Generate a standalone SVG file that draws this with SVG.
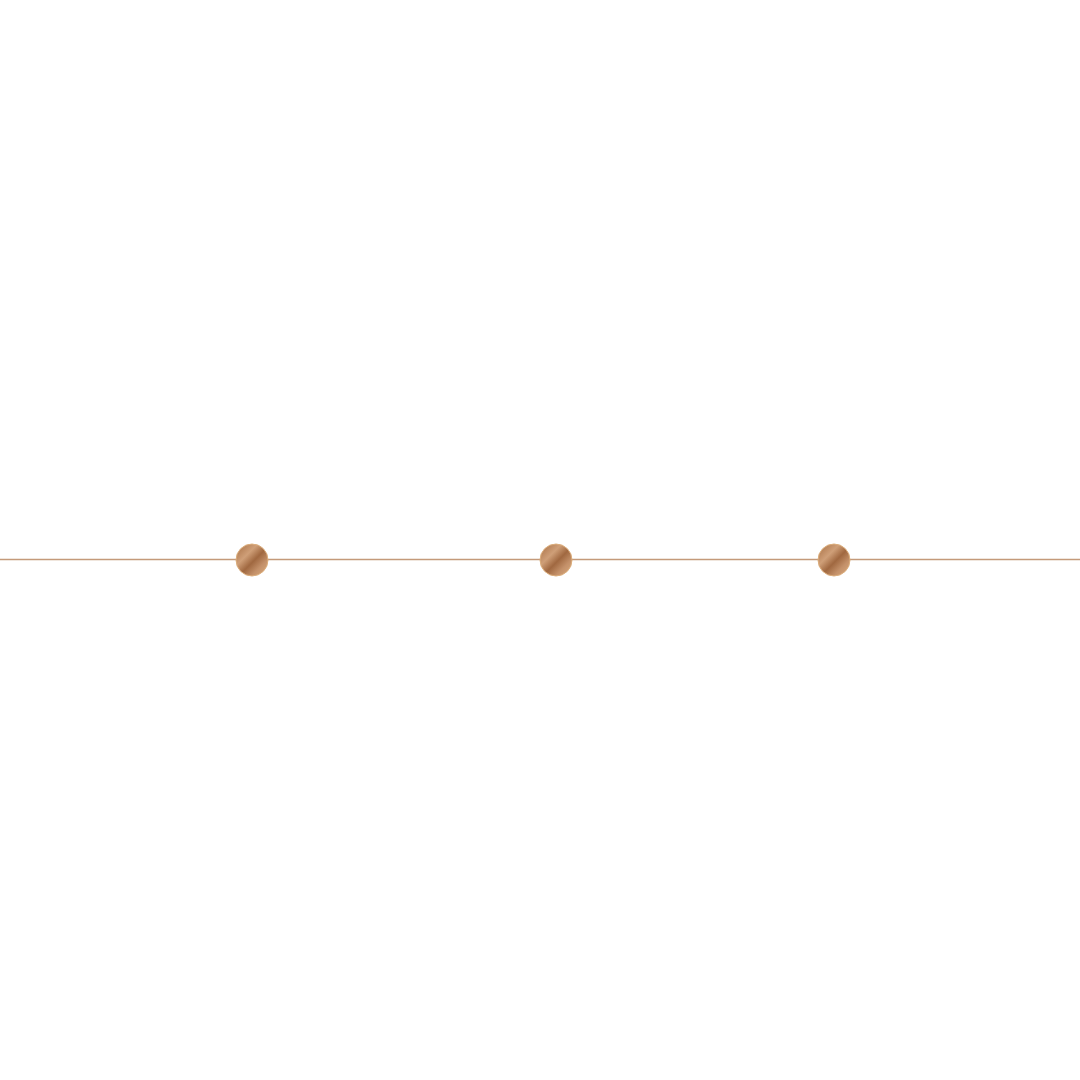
<svg xmlns="http://www.w3.org/2000/svg" width="1080" height="1080" viewBox="0 0 1080 1080">
<defs>
<linearGradient id="bronze" x1="0.1" y1="0.1" x2="0.9" y2="0.9">
<stop offset="0" stop-color="#b27c52"/>
<stop offset="0.3" stop-color="#cf9f78"/>
<stop offset="0.55" stop-color="#a06840"/>
<stop offset="0.8" stop-color="#c4916a"/>
<stop offset="1" stop-color="#d3a276"/>
</linearGradient>
<style>
.node circle{fill:url(#bronze);stroke:#dcae7c;stroke-width:1}
.conn line{stroke:#c49a7a;stroke-width:1.5}
</style>
</defs>
<rect width="1080" height="1080" fill="#ffffff"/>
<g id="connectors" class="conn">
<line x1="0" y1="559.5" x2="1080" y2="559.5"/>
</g>
<g id="node1" class="node"><circle cx="252" cy="560" r="16"/></g>
<g id="node2" class="node"><circle cx="556" cy="560" r="16"/></g>
<g id="node3" class="node"><circle cx="834" cy="560" r="16"/></g>
</svg>
